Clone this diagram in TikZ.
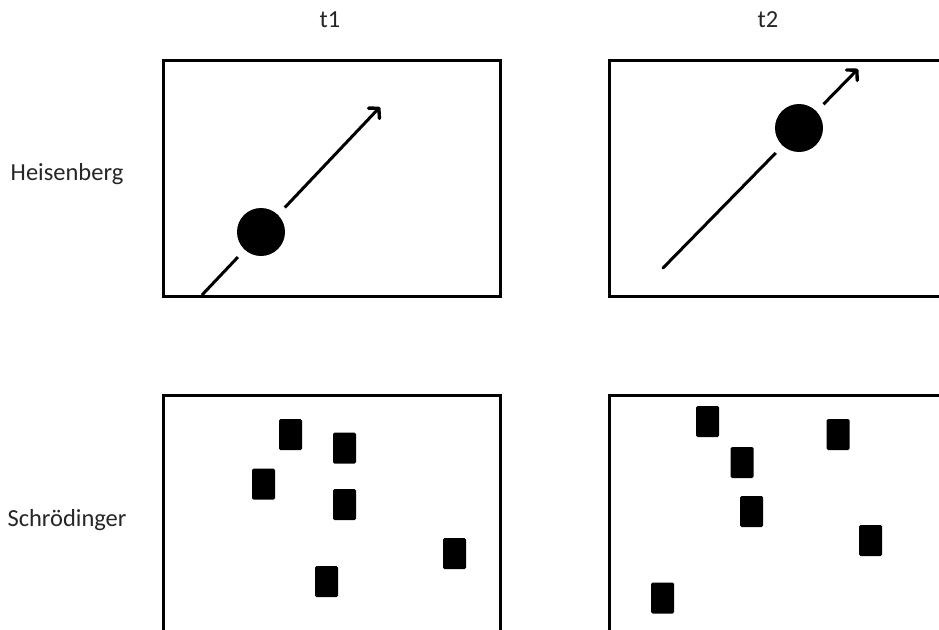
\documentclass[tikz,border=0pt]{standalone}
\usepackage{fontspec}
\setmainfont{Carlito}
\usetikzlibrary{arrows.meta}
\begin{document}
\begin{tikzpicture}[x=1pt,y=-1pt,
  frame/.style={draw=black, line width=3.2pt, fill=white, inner sep=0pt, anchor=north west},
  lbl/.style={font=\fontsize{24.5}{28}\selectfont, text=black!85},
  blk/.style={fill=black, rounded corners=1.5pt, minimum width=23pt, minimum height=31pt, inner sep=0pt},
  traj/.style={line width=3pt, -{Straight Barb[length=7pt,width=15pt,line width=3.4pt,round]}},
  ball/.style={circle, fill=black, minimum size=48pt, inner sep=0pt},
  halo/.style={white, line width=10pt}]
\useasboundingbox (0,0) rectangle (939,629);
\clip (0,0) rectangle (939,629);
\fill[white] (0,0) rectangle (939,629);

% labels
\node[lbl] (t1) at (330,20) {t1};
\node[lbl] (t2) at (768,20) {t2};
\node[lbl] (heis) at (67,174) {Heisenberg};
\node[lbl] (schr) at (67,520) {Schrödinger};

% frames
\node[frame, minimum width=337pt, minimum height=236pt] (h1) at (162,59) {};
\node[frame, minimum width=337pt, minimum height=236pt] (h2) at (608,59) {};
\node[frame, minimum width=337pt, minimum height=260pt] (s1) at (162,394) {};
\node[frame, minimum width=337pt, minimum height=260pt] (s2) at (608,394) {};

% Heisenberg t1
\coordinate (a1) at (202,295);
\coordinate (e1) at (380,107);
\draw[traj] (a1) -- (e1);
\coordinate (c1) at (261,232);
\draw[halo] (c1) circle (29pt);
\node[ball] (b1) at (c1) {};

% Heisenberg t2
\coordinate (a2) at (663,268);
\coordinate (e2) at (858,69);
\draw[traj, line cap=round] (a2) -- (e2);
\coordinate (c2) at (799,128);
\draw[halo] (c2) circle (29pt);
\node[ball] (b2) at (c2) {};

% Schroedinger t1
\node[blk] (p1) at (290.5,434.5) {};
\node[blk] (p2) at (344.5,448) {};
\node[blk] (p3) at (263.5,484) {};
\node[blk] (p4) at (344.5,504.5) {};
\node[blk] (p5) at (454.5,553.5) {};
\node[blk] (p6) at (326.5,581.5) {};

% Schroedinger t2
\node[blk] (q1) at (707.5,421.5) {};
\node[blk] (q2) at (838,434.5) {};
\node[blk] (q3) at (742,462.5) {};
\node[blk] (q4) at (751.5,511.5) {};
\node[blk] (q5) at (870.5,540.5) {};
\node[blk] (q6) at (662.5,598) {};
\end{tikzpicture}
\end{document}
